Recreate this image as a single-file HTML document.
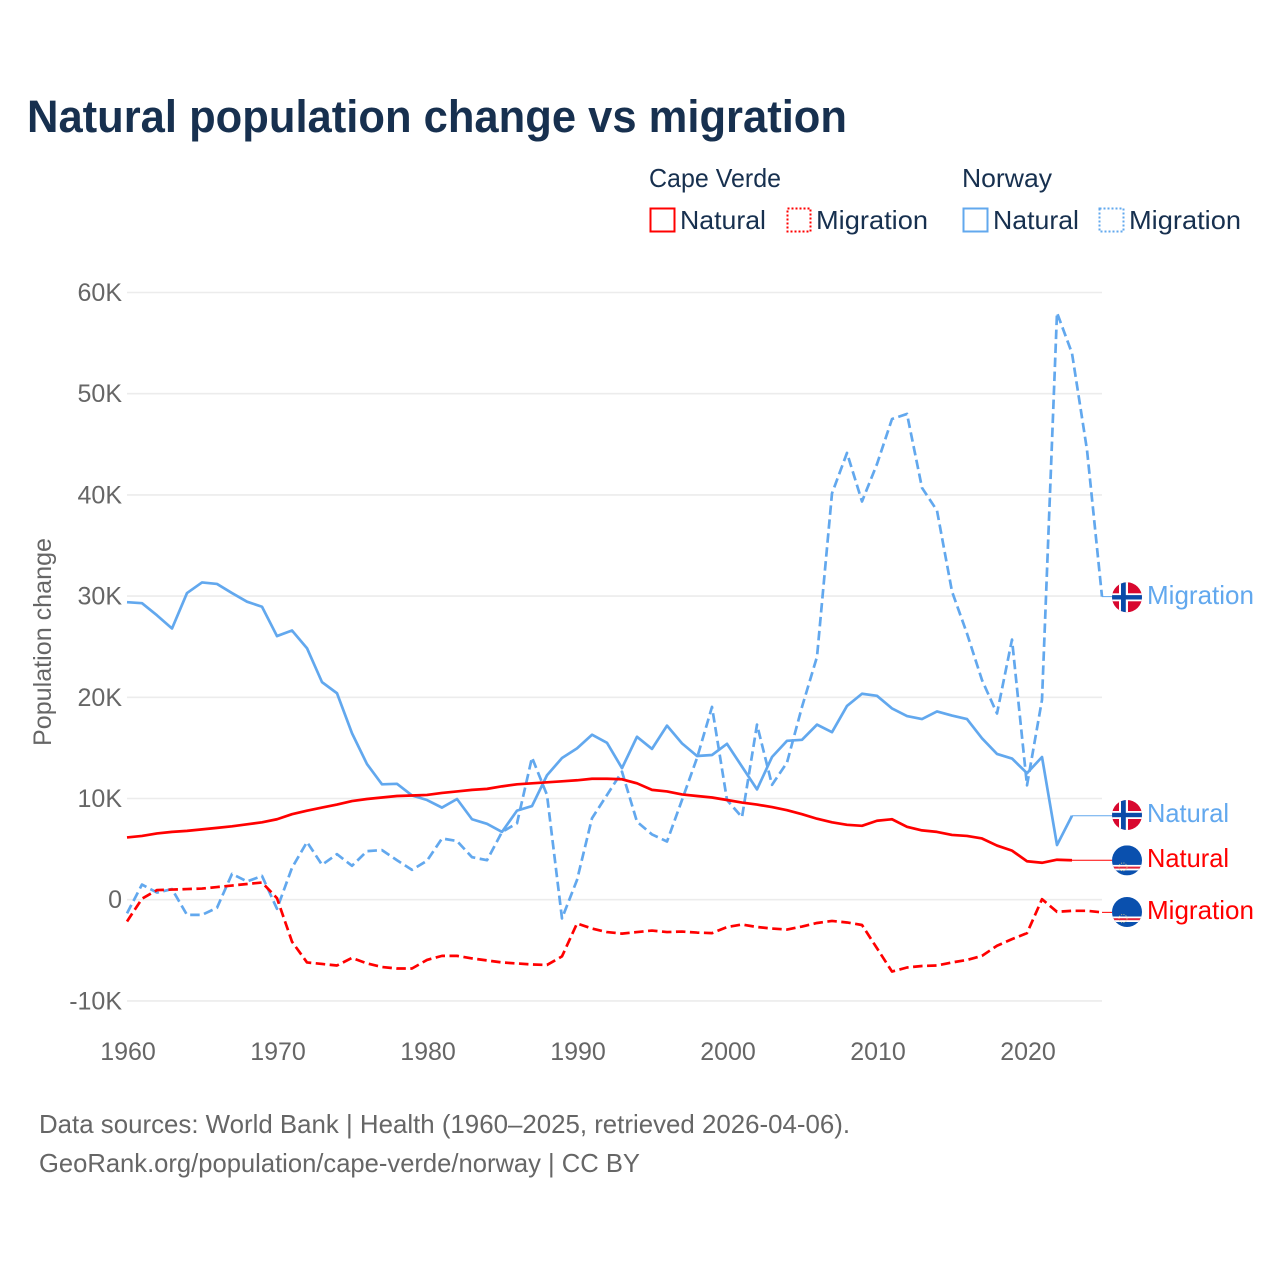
<!DOCTYPE html>
<html lang="en">
<head>
<meta charset="utf-8">
<title>Natural population change vs migration</title>
<style>
html,body{margin:0;padding:0;background:#fff;}
svg{display:block;font-family:"Liberation Sans",sans-serif;}
</style>
</head>
<body>
<svg id="chart" xmlns="http://www.w3.org/2000/svg" width="1280" height="1280" viewBox="0 0 1280 1280">
  <rect width="1280" height="1280" fill="#fff"/>
  <text x="27" y="132" font-size="45" font-weight="700" fill="#17304f" textLength="820" lengthAdjust="spacingAndGlyphs">Natural population change vs migration</text>

  <g font-size="26" fill="#17304f">
    <text x="649" y="187" textLength="132" lengthAdjust="spacingAndGlyphs">Cape Verde</text>
    <text x="962" y="187" textLength="90" lengthAdjust="spacingAndGlyphs">Norway</text>
    <g>
      <rect x="650.5" y="208.5" width="24" height="23" fill="none" stroke="#ff0000" stroke-width="2"/>
      <text x="680" y="229" textLength="86" lengthAdjust="spacingAndGlyphs">Natural</text>
    </g>
    <g>
      <rect x="787.5" y="208.5" width="23" height="23" fill="none" stroke="#ff0000" stroke-width="2" stroke-dasharray="2 2"/>
      <text x="816" y="229" textLength="112" lengthAdjust="spacingAndGlyphs">Migration</text>
    </g>
    <g>
      <rect x="963.5" y="208.5" width="24" height="23" fill="none" stroke="#62a8ee" stroke-width="2"/>
      <text x="993" y="229" textLength="86" lengthAdjust="spacingAndGlyphs">Natural</text>
    </g>
    <g>
      <rect x="1099.5" y="208.5" width="24" height="23" fill="none" stroke="#62a8ee" stroke-width="2" stroke-dasharray="2 2"/>
      <text x="1129" y="229" textLength="112" lengthAdjust="spacingAndGlyphs">Migration</text>
    </g>
  </g>

  <g id="grid"></g>
  <g id="yticks" font-size="25" fill="#666"></g>
  <g id="xticks" font-size="25" fill="#666"></g>
  <text transform="translate(51,642) rotate(-90)" text-anchor="middle" font-size="25" fill="#666" textLength="208" lengthAdjust="spacingAndGlyphs">Population change</text>

  <g id="series"></g>
  <g id="labels"></g>

  <g font-size="26" fill="#666">
    <text x="39" y="1133" textLength="811" lengthAdjust="spacingAndGlyphs">Data sources: World Bank | Health (1960–2025, retrieved 2026-04-06).</text>
    <text x="39" y="1172" textLength="601" lengthAdjust="spacingAndGlyphs">GeoRank.org/population/cape-verde/norway | CC BY</text>
  </g>
</svg>
<script>
const startYear = 1960;
const xTickYears = [1960, 1970, 1980, 1990, 2000, 2010, 2020];
const yTickValues = [-10, 0, 10, 20, 30, 40, 50, 60];
const yTickLabels = ["-10K", "0", "10K", "20K", "30K", "40K", "50K", "60K"];

const norwayNatural = [29.4,29.3,28.1,26.8,30.3,31.35,31.2,30.3,29.45,28.95,26.05,26.6,24.85,21.5,20.4,16.45,13.4,11.4,11.45,10.3,9.85,9.1,9.95,7.95,7.5,6.7,8.8,9.25,12.3,14.0,14.95,16.3,15.5,13.0,16.1,14.9,17.2,15.45,14.2,14.3,15.4,13.15,10.9,14.1,15.7,15.8,17.3,16.55,19.15,20.35,20.15,18.9,18.15,17.85,18.6,18.2,17.85,15.95,14.4,13.95,12.5,14.1,5.4,8.3];
const norwayMigration = [-1.35,1.5,0.7,1.05,-1.5,-1.5,-0.8,2.55,1.8,2.35,-0.9,3.15,5.7,3.45,4.5,3.35,4.8,4.9,3.9,2.95,3.85,6.05,5.8,4.2,3.9,6.7,7.55,14.05,10.35,-1.85,1.95,8.05,10.35,12.65,7.7,6.45,5.75,9.85,14.0,19.05,9.85,8.15,17.3,11.35,13.55,19.05,24.0,40.15,44.15,39.35,43.05,47.5,48.0,40.7,38.45,30.45,26.3,21.7,18.4,25.7,11.3,19.75,58.0,54.0,44.45,29.95];
const capeVerdeNatural = [6.15,6.3,6.55,6.7,6.8,6.95,7.1,7.25,7.45,7.65,7.95,8.45,8.8,9.1,9.4,9.75,9.95,10.1,10.25,10.3,10.35,10.55,10.7,10.85,10.95,11.2,11.4,11.5,11.6,11.7,11.8,11.95,11.95,11.9,11.5,10.85,10.7,10.4,10.25,10.1,9.85,9.6,9.4,9.15,8.85,8.45,8.0,7.65,7.4,7.3,7.8,7.95,7.2,6.85,6.7,6.4,6.3,6.05,5.35,4.85,3.8,3.65,3.95,3.9];
const capeVerdeMigration = [-2.15,0.1,0.95,1.0,1.05,1.1,1.25,1.4,1.55,1.7,0.15,-4.15,-6.2,-6.35,-6.5,-5.75,-6.3,-6.65,-6.8,-6.8,-5.95,-5.55,-5.55,-5.8,-6.0,-6.2,-6.3,-6.4,-6.45,-5.6,-2.35,-2.85,-3.2,-3.35,-3.2,-3.05,-3.2,-3.15,-3.25,-3.3,-2.7,-2.45,-2.7,-2.85,-2.95,-2.65,-2.3,-2.1,-2.25,-2.5,-4.8,-7.1,-6.7,-6.55,-6.5,-6.2,-5.95,-5.55,-4.55,-3.9,-3.3,0.05,-1.2,-1.1,-1.1,-1.25];

const NS = "http://www.w3.org/2000/svg";
const BLUE = "#62a8ee";
const RED = "#ff0000";
const xScale = year => 127 + (year - 1960) * 15;
const yScale = value => 899.7 - value * 10.12;
const FLAG_X = 1127;

function make(tag, attrs, parent) {
  const el = document.createElementNS(NS, tag);
  for (const k in attrs) el.setAttribute(k, attrs[k]);
  parent.appendChild(el);
  return el;
}

const grid = document.getElementById("grid");
const yticks = document.getElementById("yticks");
yTickValues.forEach((v, i) => {
  const line = make("line", {x1: 127, x2: 1102, y1: yScale(v), y2: yScale(v), stroke: "#ececec", "stroke-width": 1.6}, grid);
  
  
  const t = make("text", {x: 122, y: yScale(v) + 8.5, "text-anchor": "end"}, yticks);
  
  
  t.textContent = yTickLabels[i];
});

const xticks = document.getElementById("xticks");
xTickYears.forEach(y => {
  const t = make("text", {x: xScale(y) + 1, y: 1060, "text-anchor": "middle"}, xticks);
  
  
  t.textContent = y;
});

const seriesGroup = document.getElementById("series");
const labelsGroup = document.getElementById("labels");

function drawSeries(values, color, dashed, name) {
  const pts = values.map((v, i) => xScale(startYear + i) + "," + yScale(v));
  const line = make("polyline", {
    points: pts.join(" "), fill: "none", stroke: color, "stroke-width": 2.7,
    "stroke-linejoin": "round", "stroke-dasharray": dashed ? "9.5 4.5" : "none"
  }, seriesGroup);
  
  
}

function endPoint(values) {
  const i = values.length - 1;
  return [xScale(startYear + i), yScale(values[i])];
}

function drawConnector(values, color, name) {
  const [x, y] = endPoint(values);
  const c = make("line", {x1: x, y1: y, x2: FLAG_X - 15, y2: y, stroke: color, "stroke-width": 1}, seriesGroup);
  
  
}

function drawNorwayFlag(cy, clipId, name) {
  const g = make("g", {"clip-path": "url(#" + clipId + ")"}, labelsGroup);
  
  
  const clip = make("clipPath", {id: clipId}, g);
  make("circle", {cx: FLAG_X, cy: cy, r: 15}, clip);
  make("rect", {x: FLAG_X - 15, y: cy - 15, width: 30, height: 30, fill: "#d8082f"}, g);
  make("rect", {x: FLAG_X - 15, y: cy - 4, width: 30, height: 8, fill: "#fff"}, g);
  make("rect", {x: FLAG_X - 8, y: cy - 15, width: 9, height: 30, fill: "#fff"}, g);
  make("rect", {x: FLAG_X - 15, y: cy - 2.2, width: 30, height: 4.4, fill: "#0a4aa8"}, g);
  make("rect", {x: FLAG_X - 6, y: cy - 15, width: 4.8, height: 30, fill: "#0a4aa8"}, g);
}

function drawCapeVerdeFlag(cy, clipId, name) {
  const g = make("g", {"clip-path": "url(#" + clipId + ")"}, labelsGroup);
  
  
  const clip = make("clipPath", {id: clipId}, g);
  make("circle", {cx: FLAG_X, cy: cy, r: 15}, clip);
  make("rect", {x: FLAG_X - 15, y: cy - 15, width: 30, height: 30, fill: "#0a50ae"}, g);
  make("rect", {x: FLAG_X - 15, y: cy + 4.5, width: 30, height: 5.5, fill: "#fff"}, g);
  make("rect", {x: FLAG_X - 15, y: cy + 6.2, width: 30, height: 2, fill: "#e0243a"}, g);
  make("circle", {cx: FLAG_X - 4, cy: cy + 6.5, r: 4, fill: "none", stroke: "#e8d48a", "stroke-width": 0.8, "stroke-dasharray": "1 1.4"}, g);
}

function drawLabel(text, y, color, width, name) {
  const t = make("text", {x: 1147, y: y, "font-size": 26, fill: color, textLength: width, lengthAdjust: "spacingAndGlyphs"}, labelsGroup);
  
  
  t.textContent = text;
}

drawSeries(norwayMigration, BLUE, true, 'line-norway-migration');
drawSeries(norwayNatural, BLUE, false, 'line-norway-natural');
drawSeries(capeVerdeNatural, RED, false, 'line-cape-verde-natural');
drawSeries(capeVerdeMigration, RED, true, 'line-cape-verde-migration');
drawConnector(norwayMigration, BLUE, 'connector-norway-migration');
drawConnector(norwayNatural, BLUE, 'connector-norway-natural');
drawConnector(capeVerdeNatural, RED, 'connector-cape-verde-natural');
drawConnector(capeVerdeMigration, RED, 'connector-cape-verde-migration');

drawNorwayFlag(597.3, 'clip-no-mig', 'flag-norway-migration');
drawNorwayFlag(815, 'clip-no-nat', 'flag-norway-natural');
drawCapeVerdeFlag(860.4, 'clip-cv-nat', 'flag-cape-verde-natural');
drawCapeVerdeFlag(912, 'clip-cv-mig', 'flag-cape-verde-migration');

drawLabel("Migration", 604, BLUE, 107, 'end-label-norway-migration');
drawLabel("Natural", 822, BLUE, 82, 'end-label-norway-natural');
drawLabel("Natural", 867, RED, 82, 'end-label-cape-verde-natural');
drawLabel("Migration", 919, RED, 107, 'end-label-cape-verde-migration');
</script>
</body>
</html>
